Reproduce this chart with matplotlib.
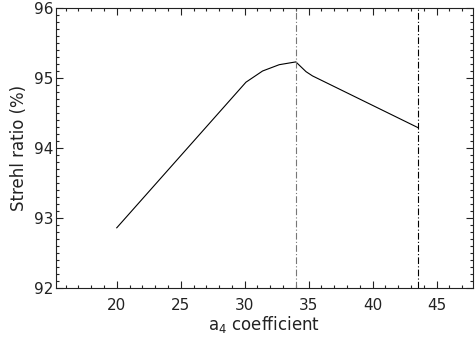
import matplotlib
matplotlib.use("Agg")
import matplotlib.pyplot as plt
from matplotlib.ticker import MultipleLocator

# curve
a4 = [20.0, 30.1, 31.4, 32.7, 34.0, 34.8, 35.3, 43.56]
strehl = [92.86, 94.94, 95.10, 95.19, 95.23, 95.09, 95.03, 94.29]

a4_opt = 34.0     # grey dash-dot marker
a4_edge = 43.56   # black dash-dot marker

plt.rcParams["font.family"] = ["DejaVu Sans"]
plt.rcParams["mathtext.fontset"] = "dejavusans"

fig = plt.figure(figsize=(4.76, 3.40), dpi=100)
ax = fig.add_axes([56 / 476, 1 - 288 / 340, (473 - 56) / 476, (288 - 8) / 340])

ax.plot(a4, strehl, color="black", lw=0.8)
ax.axvline(a4_opt, color="#777777", lw=0.8, ls=(0, (6, 2, 1, 2)))
ax.axvline(a4_edge, color="black", lw=0.8, ls=(0, (6, 2, 1, 2)))

ax.set_xlim(15.25, 47.85)
ax.set_ylim(92, 96)
ax.xaxis.set_major_locator(MultipleLocator(5))
ax.xaxis.set_minor_locator(MultipleLocator(1))
ax.yaxis.set_major_locator(MultipleLocator(1))
ax.yaxis.set_minor_locator(MultipleLocator(0.1))

ax.tick_params(which="both", direction="in", top=True, right=True,
               width=0.8, colors="#222222", labelsize=11)
ax.tick_params(which="major", length=5)
ax.tick_params(which="minor", length=2.5)
ax.tick_params(axis="x", pad=7)
ax.tick_params(axis="y", pad=2)
for s in ax.spines.values():
    s.set_linewidth(0.8)
    s.set_color("#222222")

ax.set_xlabel(r"a$_4$ coefficient", fontsize=12, color="#222222", labelpad=1)
ax.set_ylabel("Strehl ratio (%)", fontsize=12, color="#222222", labelpad=4)

fig.savefig("out.png", dpi=100)
